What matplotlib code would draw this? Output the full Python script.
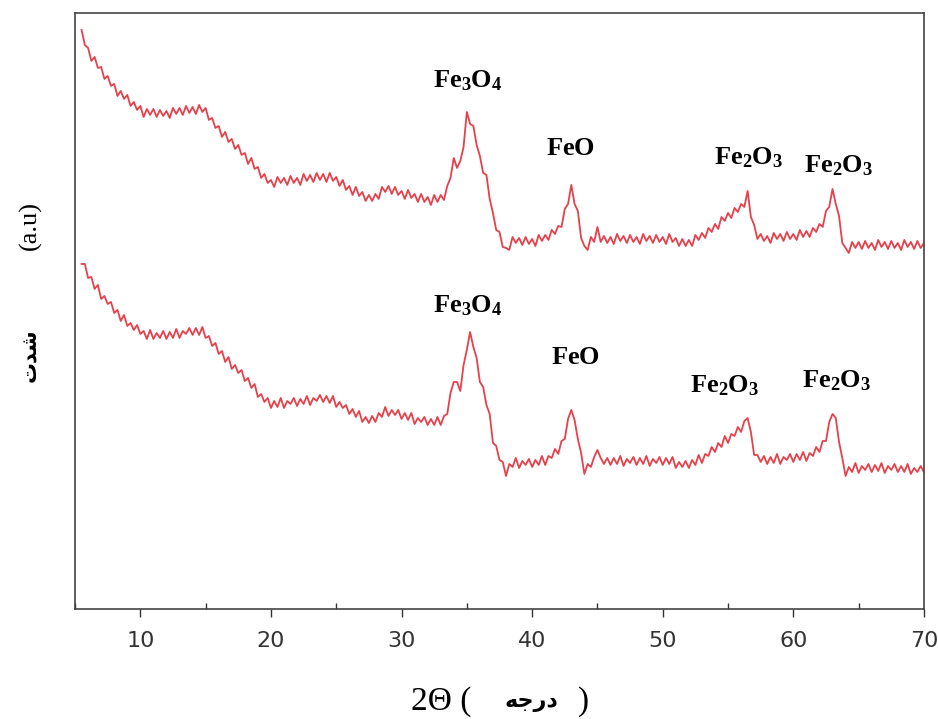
import numpy as np
import matplotlib
matplotlib.use("Agg")
import matplotlib.pyplot as plt
from matplotlib.ticker import MultipleLocator

plt.rcParams["mathtext.fontset"] = "custom"
plt.rcParams["mathtext.rm"] = "Liberation Serif"
plt.rcParams["mathtext.bf"] = "Liberation Serif:bold"

# 2-theta grid start / step (degrees)
theta_start = 5.5
theta_step = 0.25

# upper pattern (a.u.), one row per degree-ish
upper = [570, 555,
         552, 539, 543, 532, 533, 521, 524, 514,
         516, 504, 509, 501, 505, 494, 498, 490,
         494, 483, 491, 485, 491, 483, 490, 484,
         489, 482, 492, 486, 492, 485, 494, 487,
         493, 486, 495, 488, 492, 480, 482, 472,
         474, 463, 468, 458, 461, 451, 455, 445,
         447, 436, 442, 431, 433, 422, 426, 417,
         420, 413, 423, 417, 422, 415, 424, 417,
         422, 415, 426, 419, 425, 418, 427, 420,
         426, 418, 427, 419, 423, 414, 420, 410,
         414, 405, 413, 404, 408, 399, 405, 399,
         406, 401, 413, 408, 414, 406, 413, 405,
         409, 401, 410, 402, 406, 398, 406, 398,
         403, 395, 405, 398, 405, 400, 414, 422,
         442, 432, 439, 453, 488, 476, 474, 455,
         444, 427, 425, 401, 387, 370, 368, 353,
         352, 350, 363, 357, 362, 355, 363, 356,
         361, 354, 365, 359, 365, 360, 370, 366,
         374, 373, 391, 396, 415, 396, 389, 362,
         354, 350, 363, 358, 373, 358, 364, 357,
         363, 356, 366, 359, 364, 357, 365, 358,
         363, 356, 366, 359, 364, 357, 365, 358,
         363, 356, 366, 358, 362, 354, 361, 354,
         360, 354, 365, 360, 367, 362, 372, 368,
         376, 371, 383, 379, 387, 382, 392, 388,
         396, 393, 409, 383, 375, 361, 366, 359,
         364, 357, 367, 361, 366, 359, 368, 361,
         366, 360, 370, 363, 369, 363, 372, 368,
         376, 373, 389, 393, 411, 396, 384, 357,
         352, 347, 358, 352, 358, 351, 359, 352,
         357, 350, 360, 353, 358, 351, 359, 352,
         357, 350, 360, 353, 358, 351, 359, 352,
         357]

# lower pattern (a.u.)
lower = [336, 336,
         322, 323, 311, 315, 301, 304, 296, 298,
         287, 290, 279, 285, 274, 277, 270, 275,
         266, 269, 261, 270, 261, 267, 262, 269,
         261, 268, 262, 271, 262, 269, 266, 272,
         265, 272, 265, 273, 262, 264, 254, 257,
         246, 249, 238, 243, 231, 235, 227, 230,
         219, 222, 212, 216, 203, 206, 198, 202,
         192, 199, 193, 202, 192, 199, 196, 202,
         194, 201, 196, 204, 195, 202, 199, 205,
         198, 204, 197, 204, 193, 198, 192, 195,
         186, 191, 183, 189, 178, 183, 177, 184,
         178, 187, 183, 193, 184, 190, 185, 190,
         181, 187, 180, 187, 176, 182, 178, 183,
         175, 181, 175, 183, 175, 184, 186, 207,
         218, 218, 209, 235, 250, 268, 253, 242,
         218, 213, 195, 186, 157, 154, 140, 138,
         124, 136, 133, 142, 132, 139, 135, 141,
         133, 140, 135, 144, 135, 144, 142, 151,
         146, 159, 161, 181, 190, 180, 161, 147,
         126, 136, 133, 143, 150, 142, 136, 142,
         135, 142, 136, 144, 134, 141, 137, 143,
         135, 142, 136, 144, 134, 141, 137, 143,
         135, 142, 136, 143, 132, 138, 133, 139,
         132, 140, 135, 145, 137, 146, 144, 153,
         148, 157, 153, 164, 157, 166, 164, 173,
         168, 179, 182, 168, 145, 145, 138, 144,
         136, 143, 137, 146, 136, 143, 140, 146,
         138, 146, 140, 148, 139, 147, 144, 153,
         148, 159, 159, 178, 186, 182, 158, 142,
         124, 133, 128, 137, 127, 134, 130, 136,
         128, 135, 129, 137, 127, 134, 130, 136,
         128, 134, 128, 136, 126, 132, 128, 134,
         128]

# phase labels: text, 2-theta, height
upper_labels = [r"$\mathbf{Fe_3O_4}$", r"$\mathbf{FeO}$", r"$\mathbf{Fe_2O_3}$", r"$\mathbf{Fe_2O_3}$"]
upper_label_x = [35.1, 42.9, 56.6, 63.5]
upper_label_y = [520, 452, 443, 435]
lower_labels = [r"$\mathbf{Fe_3O_4}$", r"$\mathbf{FeO}$", r"$\mathbf{Fe_2O_3}$", r"$\mathbf{Fe_2O_3}$"]
lower_label_x = [35.1, 43.3, 54.7, 63.3]
lower_label_y = [295, 243, 215, 220]

assert len(upper) == len(lower)
two_theta = theta_start + theta_step * np.arange(len(upper))

fig = plt.figure(figsize=(9.38, 7.19), dpi=100)
ax = fig.add_axes([0.080, 0.153, 0.905, 0.829])

red = "#e5414b"
ax.plot(two_theta, upper, color=red, lw=1.3)
ax.plot(two_theta, lower, color=red, lw=1.3)

for txt, x, y in zip(upper_labels, upper_label_x, upper_label_y):
    ax.text(x, y, txt, ha="center", va="center", fontsize=19)
for txt, x, y in zip(lower_labels, lower_label_x, lower_label_y):
    ax.text(x, y, txt, ha="center", va="center", fontsize=19)

ax.set_xlim(5, 70)
ax.set_ylim(-9, 587)
ax.xaxis.set_major_locator(MultipleLocator(10))
ax.xaxis.set_minor_locator(MultipleLocator(5))
ax.set_yticks([])
ax.tick_params(axis="x", which="major", direction="out", length=6,
               width=1, colors="#333333", labelsize=16, pad=10)
ax.tick_params(axis="x", which="minor", direction="in", length=4,
               width=1, colors="#333333")
for sp in ax.spines.values():
    sp.set_color("#444444")
    sp.set_linewidth(1.2)

# axis titles (Persian text written in presentation forms, visual order)
fig.text(0.032, 0.687, "(a.u)", rotation=90, ha="center", va="center",
         fontsize=19, family="Liberation Serif")
fig.text(0.032, 0.506, "\ufe95\ufeaa\ufeb7", rotation=90, ha="center", va="center",
         fontsize=15, fontweight="bold", family="DejaVu Sans")
fig.text(0.502, 0.024, "2\u0398 (", ha="right", va="center", fontsize=24,
         family="Liberation Serif")
fig.text(0.567, 0.024, "\ufeea\ufe9f\ufead\ufea9", ha="center", va="center",
         fontsize=16, fontweight="bold", family="DejaVu Sans")
fig.text(0.622, 0.024, ")", ha="center", va="center", fontsize=24,
         family="Liberation Serif")

fig.savefig("out.png", dpi=100)
